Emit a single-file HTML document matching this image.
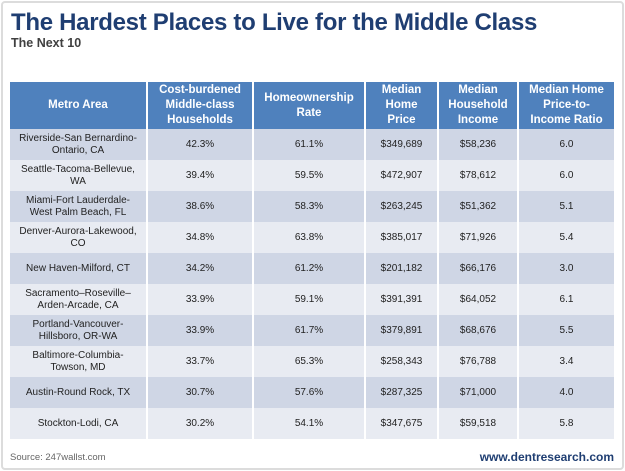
<!DOCTYPE html>
<html><head><meta charset="utf-8"><style>
body{margin:0;width:625px;height:471px;background:#fff;font-family:"Liberation Sans",Arial,sans-serif;overflow:hidden}
#frame{position:absolute;left:1px;top:1px;width:619px;height:465px;border:2px solid #dcdcdc;border-radius:4px}
#title{position:absolute;left:11px;top:9px;font-size:24px;font-weight:bold;color:#1f3e72;white-space:nowrap;letter-spacing:-0.3px}
#sub{position:absolute;left:11px;top:36px;font-size:12.5px;font-weight:bold;color:#404040}
table{position:absolute;left:10px;top:82px;width:604px;border-collapse:collapse;table-layout:fixed}
th{background:#4f81bd;color:#fff;font-size:11.5px;font-weight:bold;height:47px;border-left:2px solid #fff;padding:0 2px;line-height:15px}
th:first-child{border-left:none}
td{font-size:10px;color:#222;text-align:center;height:31px;padding:0 2px;border-left:2px solid #fff;line-height:12px}
td:first-child{border-left:none}
tr.o td{background:#cfd6e5}
tr.e td{background:#e8ebf2}
#src{position:absolute;left:10px;top:452px;font-size:9.5px;color:#666}
#web{position:absolute;right:11px;top:450px;font-size:12px;font-weight:bold;color:#1f3e72}
</style></head><body>
<div id="frame"></div>
<div id="title">The Hardest Places to Live for the Middle Class</div>
<div id="sub">The Next 10</div>
<table>
<colgroup><col style="width:137px"><col style="width:106px"><col style="width:112px"><col style="width:73px"><col style="width:80px"><col style="width:96px"></colgroup>
<tr><th>Metro Area</th><th>Cost-burdened<br>Middle-class<br>Households</th><th>Homeownership<br>Rate</th><th>Median<br>Home<br>Price</th><th>Median<br>Household<br>Income</th><th>Median Home<br>Price-to-<br>Income Ratio</th></tr>
<tr class="o"><td>Riverside-San Bernardino-<br>Ontario, CA</td><td>42.3%</td><td>61.1%</td><td>$349,689</td><td>$58,236</td><td>6.0</td></tr>
<tr class="e"><td>Seattle-Tacoma-Bellevue,<br>WA</td><td>39.4%</td><td>59.5%</td><td>$472,907</td><td>$78,612</td><td>6.0</td></tr>
<tr class="o"><td>Miami-Fort Lauderdale-<br>West Palm Beach, FL</td><td>38.6%</td><td>58.3%</td><td>$263,245</td><td>$51,362</td><td>5.1</td></tr>
<tr class="e"><td>Denver-Aurora-Lakewood,<br>CO</td><td>34.8%</td><td>63.8%</td><td>$385,017</td><td>$71,926</td><td>5.4</td></tr>
<tr class="o"><td>New Haven-Milford, CT</td><td>34.2%</td><td>61.2%</td><td>$201,182</td><td>$66,176</td><td>3.0</td></tr>
<tr class="e"><td>Sacramento–Roseville–<br>Arden-Arcade, CA</td><td>33.9%</td><td>59.1%</td><td>$391,391</td><td>$64,052</td><td>6.1</td></tr>
<tr class="o"><td>Portland-Vancouver-<br>Hillsboro, OR-WA</td><td>33.9%</td><td>61.7%</td><td>$379,891</td><td>$68,676</td><td>5.5</td></tr>
<tr class="e"><td>Baltimore-Columbia-<br>Towson, MD</td><td>33.7%</td><td>65.3%</td><td>$258,343</td><td>$76,788</td><td>3.4</td></tr>
<tr class="o"><td>Austin-Round Rock, TX</td><td>30.7%</td><td>57.6%</td><td>$287,325</td><td>$71,000</td><td>4.0</td></tr>
<tr class="e"><td>Stockton-Lodi, CA</td><td>30.2%</td><td>54.1%</td><td>$347,675</td><td>$59,518</td><td>5.8</td></tr>
</table>
<div id="src">Source: 247wallst.com</div>
<div id="web">www.dentresearch.com</div>
</body></html>
